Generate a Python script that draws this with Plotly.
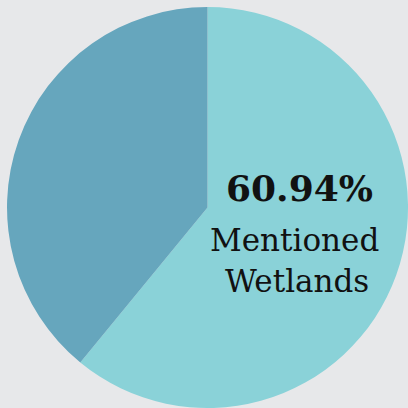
import plotly.graph_objects as go

labels = ["Mentioned Wetlands", "Did Not Mention"]
values = [60.94, 39.06]
colors = ["#8ad2d8", "#66a6bd"]

fig = go.Figure(go.Pie(
    labels=labels, values=values, sort=False, direction="clockwise", rotation=0,
    marker=dict(colors=colors, line=dict(width=0)),
    textinfo="none", hoverinfo="none", showlegend=False,
    domain=dict(x=[0.0172, 1.0], y=[0.0, 0.9828]),
))

font_main = "DejaVu Serif"
fig.add_annotation(x=299/408, y=1-188/408, xref="paper", yref="paper",
                   xanchor="center", yanchor="middle",
                   text="<b>%.2f%%</b>" % values[0], showarrow=False,
                   font=dict(family=font_main, size=36, color="#111111"))
fig.add_annotation(x=294/408, y=1-240/408, xref="paper", yref="paper",
                   xanchor="center", yanchor="middle",
                   text="Mentioned", showarrow=False,
                   font=dict(family=font_main, size=31, color="#111111"))
fig.add_annotation(x=297/408, y=1-281/408, xref="paper", yref="paper",
                   xanchor="center", yanchor="middle",
                   text="Wetlands", showarrow=False,
                   font=dict(family=font_main, size=31, color="#111111"))

fig.update_layout(width=408, height=408, margin=dict(l=0, r=0, t=0, b=0),
                  paper_bgcolor="#e7e8ea", plot_bgcolor="#e7e8ea")
fig.write_html("out.html", config={"displayModeBar": False},
               post_script="document.body.style.margin='0';document.body.style.background='#e7e8ea';")
